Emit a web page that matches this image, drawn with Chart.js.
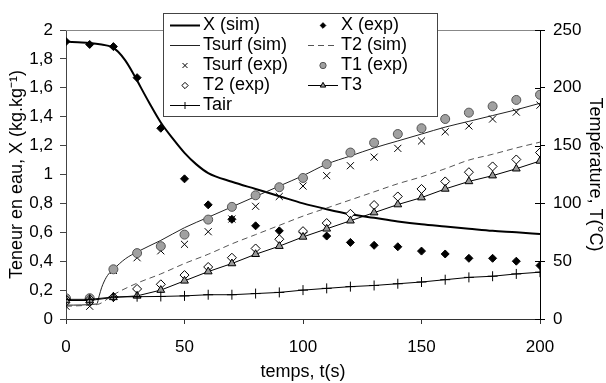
<!DOCTYPE html>
<html>
<head>
<meta charset="utf-8">
<script src="https://cdn.jsdelivr.net/npm/chart.js@4.4.1/dist/chart.umd.min.js"></script>
<style>
  html, body { margin: 0; padding: 0; background: #fff; }
  canvas { display: block; }
</style>
</head>
<body>
<canvas id="chart" width="606" height="383"></canvas>
<script>
// experimental sampling times (s)
const timeExp = [0, 10, 20, 30, 40, 50, 60, 70, 80, 90, 100, 110, 120, 130, 140, 150, 160, 170, 180, 190, 200];

// water content X (kg/kg)
const xSimTime = [0, 5, 10, 15, 18, 20, 22, 25, 28, 30, 35, 40, 45, 50, 55, 60, 70, 80, 90, 100, 110, 120, 130, 140, 150, 160, 170, 180, 190, 200];
const xSim = [1.92, 1.915, 1.91, 1.90, 1.89, 1.875, 1.85, 1.79, 1.71, 1.65, 1.50, 1.36, 1.25, 1.15, 1.07, 1.01, 0.95, 0.90, 0.85, 0.80, 0.76, 0.725, 0.70, 0.675, 0.655, 0.64, 0.625, 0.61, 0.60, 0.588];
const xExp = [1.92, 1.90, 1.885, 1.67, 1.32, 0.97, 0.79, 0.69, 0.645, 0.61, 0.60, 0.574, 0.53, 0.51, 0.50, 0.47, 0.45, 0.42, 0.42, 0.40, 0.37];

// temperatures (°C)
const tsurfSimTime = [0, 13, 14, 15, 16, 17, 18, 20, 25, 30, 40, 50, 60, 70, 80, 90, 100, 110, 120, 130, 140, 150, 160, 170, 180, 190, 200];
const tsurfSim = [12, 13, 20, 27, 32, 36, 39, 43, 52, 58, 68, 79, 88, 97, 106, 115, 124, 134, 141, 148, 154, 160, 166, 171, 176, 181, 186.6];
const t2SimTime = [0, 10, 14, 20, 30, 40, 50, 60, 70, 80, 90, 100, 110, 120, 130, 140, 150, 160, 170, 180, 190, 200];
const t2Sim = [11, 12, 13, 21, 31, 39, 48, 56, 65, 73, 81, 89, 96, 103, 110, 117, 123, 130, 137.5, 142.5, 148, 153];
const tsurfExp = [11, 11, 42, 53, 59, 64.6, 75.5, 86.5, 97.5, 106, 115, 124, 132.6, 140, 147.6, 154, 162, 167, 173, 179, 185];
const t1Exp = [18, 18, 43, 57, 63, 73, 86, 97, 107, 114, 122, 134, 144, 152.5, 160, 165, 173, 178.5, 184, 189.5, 194];
const t2Exp = [17, 17, 19, 26, 30, 38, 45, 53, 61, 69, 76, 83, 91, 98.6, 106, 112.5, 119, 127, 132, 138, 144];
const t3 = [16, 16, 18.7, 20, 25, 33, 41, 48, 56, 63, 71, 78, 85, 92, 99, 105, 112.5, 119, 124, 130, 136.7];
const tair = [17, 17, 19, 19.3, 19.5, 20, 21, 21, 22, 23, 25, 26.5, 28, 29, 30.5, 32, 34, 36, 37, 39, 40.5];

const legendLabels = ['X (sim)', 'X (exp)', 'Tsurf (sim)', 'T2 (sim)', 'Tsurf (exp)', 'T1 (exp)', 'T2 (exp)', 'T3', 'Tair'];

function pts(xs, ys) {
    return xs.map((x, i) => ({x: x, y: ys[i]}));
}

const FONT = "'Liberation Sans', Arial, sans-serif";
Chart.defaults.font.family = FONT;
Chart.defaults.color = '#000';

const datasets = [
    {label: legendLabels[0], data: pts(xSimTime, xSim), yAxisID: 'y', showLine: true,
        borderColor: '#000', borderWidth: 2, pointRadius: 0, cubicInterpolationMode: 'monotone'},
    {label: legendLabels[1], data: pts(timeExp, xExp), yAxisID: 'y',
        pointStyle: 'rectRot', pointRadius: 4, backgroundColor: '#000', borderColor: '#000', borderWidth: 1},
    {label: legendLabels[2], data: pts(tsurfSimTime, tsurfSim), yAxisID: 'y2', showLine: true,
        borderColor: '#222', borderWidth: 1, pointRadius: 0, cubicInterpolationMode: 'monotone'},
    {label: legendLabels[3], data: pts(t2SimTime, t2Sim), yAxisID: 'y2', showLine: true,
        borderColor: '#555', borderWidth: 1, borderDash: [6, 4], pointRadius: 0, cubicInterpolationMode: 'monotone'},
    {label: legendLabels[4], data: pts(timeExp, tsurfExp), yAxisID: 'y2',
        pointStyle: 'crossRot', pointRadius: 5, borderColor: '#000', borderWidth: 1},
    {label: legendLabels[5], data: pts(timeExp, t1Exp), yAxisID: 'y2',
        pointStyle: 'circle', pointRadius: 4.5, backgroundColor: '#a0a0a0', borderColor: '#555', borderWidth: 1},
    {label: legendLabels[6], data: pts(timeExp, t2Exp), yAxisID: 'y2',
        pointStyle: 'rectRot', pointRadius: 4.5, backgroundColor: '#fff', borderColor: '#000', borderWidth: 1},
    {label: legendLabels[7], data: pts(timeExp, t3), yAxisID: 'y2', showLine: true,
        borderColor: '#000', borderWidth: 1, pointStyle: 'triangle', pointRadius: 4.5,
        backgroundColor: '#999', pointBorderColor: '#000'},
    {label: legendLabels[8], data: pts(timeExp, tair), yAxisID: 'y2', showLine: true,
        borderColor: '#000', borderWidth: 1, pointStyle: 'cross', pointRadius: 5}
];
// later series drawn on top (like the original)
datasets.forEach((d, i) => { d.order = datasets.length - i; });

// box legend inside the chart + top frame line + right axis inner ticks
const boxLegend = {
    id: 'boxLegend',
    afterDraw(chart) {
        const ctx = chart.ctx;
        const area = chart.chartArea;
        ctx.save();
        ctx.strokeStyle = '#888';
        ctx.lineWidth = 1;
        ctx.beginPath();
        ctx.moveTo(area.left, area.top + 0.5);
        ctx.lineTo(area.right, area.top + 0.5);
        ctx.stroke();

        const y2 = chart.scales.y2;
        ctx.strokeStyle = '#000';
        y2.ticks.forEach(t => {
            const py = Math.round(y2.getPixelForValue(t.value)) + 0.5;
            ctx.beginPath();
            ctx.moveTo(area.right - 5, py);
            ctx.lineTo(area.right, py);
            ctx.stroke();
        });

        // legend frame
        const bx = 163, by = 13, bw = 274, bh = 103;
        ctx.fillStyle = '#fff';
        ctx.fillRect(bx, by, bw, bh);
        ctx.strokeStyle = '#444';
        ctx.strokeRect(bx + 0.5, by + 0.5, bw, bh);

        const colX = [170, 308];
        ctx.font = '18px ' + FONT;
        ctx.textBaseline = 'middle';
        chart.data.datasets.forEach((ds, i) => {
            const x0 = colX[i % 2];
            const y = 25 + Math.floor(i / 2) * 20;
            if (ds.showLine) {
                ctx.strokeStyle = ds.borderColor;
                ctx.lineWidth = ds.borderWidth;
                ctx.setLineDash(ds.borderDash || []);
                ctx.beginPath();
                ctx.moveTo(x0, y + 0.5);
                ctx.lineTo(x0 + 30, y + 0.5);
                ctx.stroke();
                ctx.setLineDash([]);
            }
            if (ds.pointRadius > 0) {
                ctx.fillStyle = ds.backgroundColor || '#000';
                ctx.strokeStyle = ds.pointBorderColor || ds.borderColor;
                ctx.lineWidth = 1;
                Chart.helpers.drawPoint(ctx, {
                    pointStyle: ds.pointStyle, radius: ds.pointRadius * 0.7, rotation: 0, borderWidth: 1
                }, x0 + 15, y + 0.5);
            }
            ctx.fillStyle = '#000';
            ctx.fillText(ds.label, x0 + 33, y);
        });
        ctx.restore();
    }
};

function commaFmt(v) {
    return String(Math.round(v * 10) / 10).replace('.', ',');
}

new Chart(document.getElementById('chart'), {
    type: 'scatter',
    data: {datasets: datasets},
    plugins: [boxLegend],
    options: {
        responsive: false,
        animation: false,
        devicePixelRatio: 1,
        layout: {padding: {top: 30, left: 0, right: 0, bottom: 0}},
        plugins: {legend: {display: false}, tooltip: {enabled: false}},
        scales: {
            x: {
                type: 'linear', min: 0, max: 200,
                ticks: {stepSize: 50, font: {size: 17}, padding: 13, color: '#000'},
                grid: {drawOnChartArea: false, tickLength: 5, color: '#333'},
                border: {color: '#333', width: 1},
                title: {display: true, text: 'temps, t(s)', font: {size: 18}, padding: {top: 0, bottom: 0}},
                afterFit: s => { s.height = 64; }
            },
            y: {
                position: 'left', min: 0, max: 2,
                ticks: {stepSize: 0.2, font: {size: 17}, padding: 7, color: '#000', callback: v => commaFmt(v)},
                grid: {drawOnChartArea: false, tickLength: 6, color: '#444'},
                border: {color: '#444', width: 1},
                title: {display: true, text: 'Teneur en eau, X (kg.kg⁻¹)', font: {size: 18}, padding: {top: 6, bottom: 0}},
                afterFit: s => { s.width = 66; }
            },
            y2: {
                position: 'right', min: 0, max: 250,
                ticks: {stepSize: 50, font: {size: 17}, padding: 8, color: '#000'},
                grid: {drawOnChartArea: false, tickLength: 5, color: '#000'},
                border: {color: '#000', width: 1},
                title: {display: true, text: 'Température, T(°C)', font: {size: 18}, padding: {top: 0, bottom: 0}},
                afterFit: s => { s.width = 66; }
            }
        }
    }
});
</script>
</body>
</html>
